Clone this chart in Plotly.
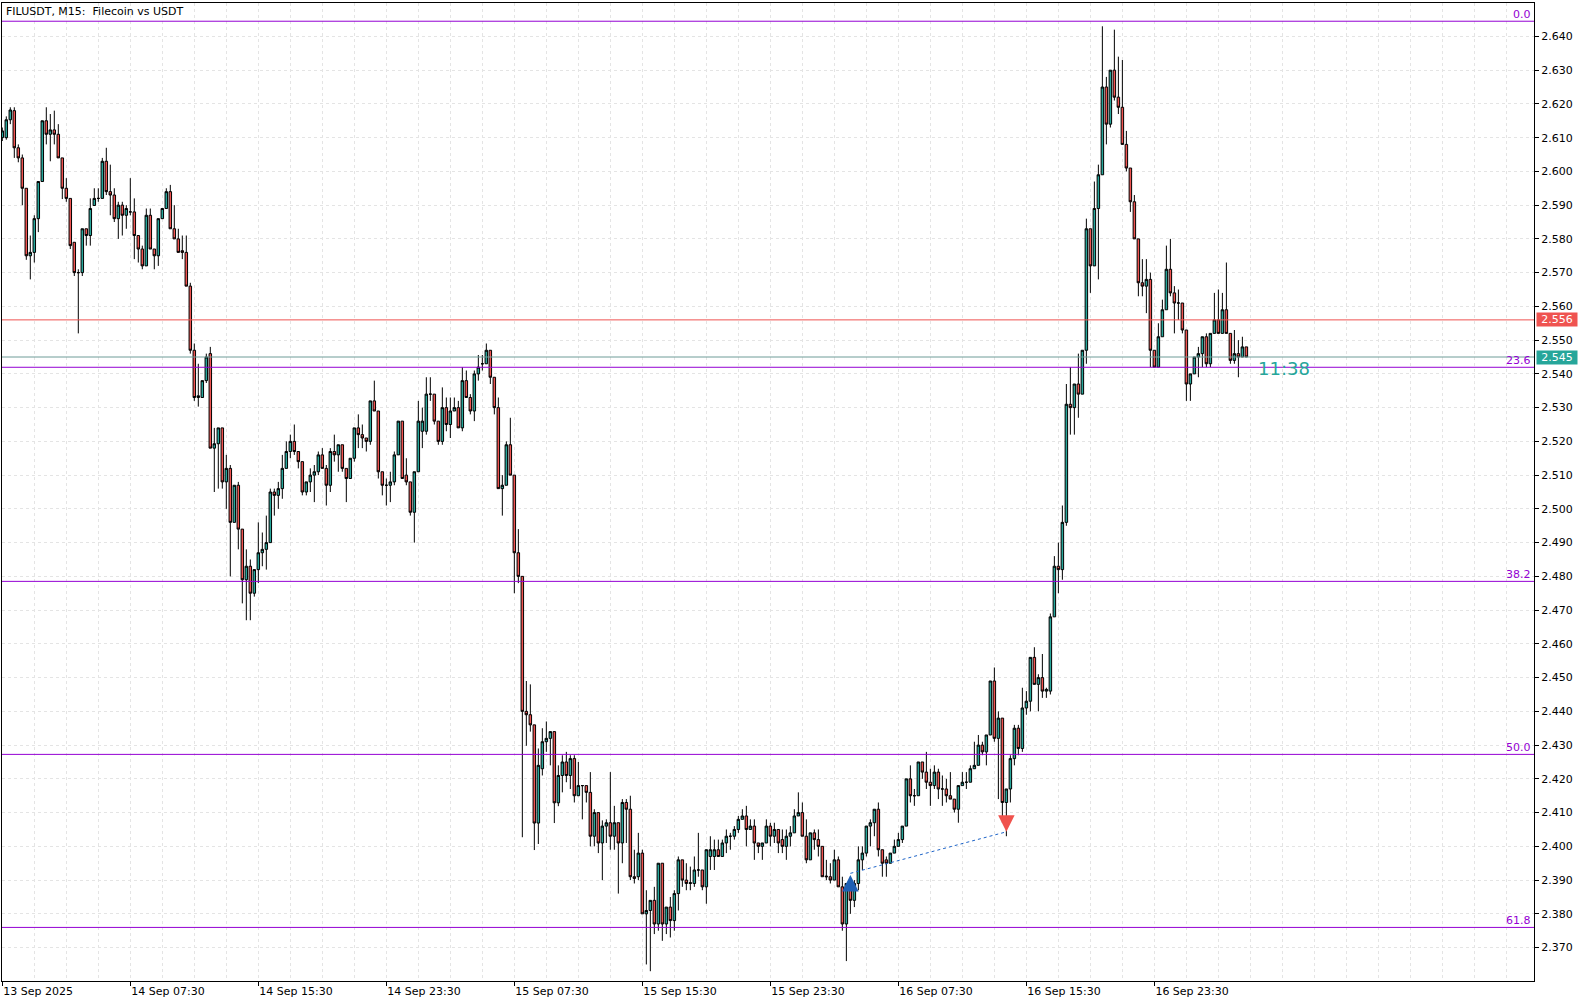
import plotly.graph_objects as go

opens = [
    2.610, 2.610, 2.6153, 2.618, 2.607, 2.604, 2.595, 2.575, 2.576, 2.586,
    2.597, 2.615, 2.611, 2.6123, 2.611, 2.604, 2.595, 2.592, 2.579, 2.570,
    2.570, 2.583, 2.581, 2.5899, 2.592, 2.592, 2.603, 2.594, 2.593, 2.586,
    2.590, 2.587, 2.588, 2.588, 2.581, 2.577, 2.572, 2.587, 2.577, 2.575,
    2.586, 2.589, 2.594, 2.583, 2.580, 2.5765, 2.576, 2.566, 2.547, 2.533,
    2.533, 2.538, 2.546, 2.518, 2.5193, 2.524, 2.508, 2.512, 2.496, 2.507,
    2.494, 2.479, 2.483, 2.475, 2.482, 2.487, 2.488, 2.490, 2.505, 2.504,
    2.506, 2.512, 2.517, 2.520, 2.517, 2.514, 2.505, 2.508, 2.510, 2.511,
    2.516, 2.512, 2.507, 2.517, 2.516, 2.519, 2.512, 2.509, 2.515, 2.524,
    2.522, 2.521, 2.520, 2.532, 2.529, 2.511, 2.507, 2.507, 2.508, 2.516,
    2.526, 2.510, 2.508, 2.499, 2.511, 2.523, 2.523, 2.534, 2.534, 2.526,
    2.520, 2.530, 2.525, 2.529, 2.530, 2.524, 2.538, 2.533, 2.529, 2.540,
    2.543, 2.543, 2.547, 2.539, 2.530, 2.506, 2.507, 2.519, 2.510, 2.487,
    2.480, 2.440, 2.439, 2.436, 2.4069, 2.423, 2.431, 2.432, 2.434, 2.4129,
    2.421, 2.425, 2.421, 2.426, 2.415, 2.418, 2.418, 2.416, 2.403, 2.410,
    2.401, 2.406, 2.407, 2.403, 2.407, 2.401, 2.413, 2.411, 2.391, 2.391,
    2.398, 2.380, 2.381, 2.384, 2.377, 2.395, 2.377, 2.382, 2.378, 2.386,
    2.396, 2.390, 2.389, 2.389, 2.393, 2.393, 2.388, 2.397, 2.397, 2.399,
    2.397, 2.401, 2.403, 2.403, 2.405, 2.408, 2.409, 2.405, 2.406, 2.401,
    2.400, 2.401, 2.406, 2.403, 2.405, 2.402, 2.400, 2.403, 2.404, 2.409,
    2.410, 2.403, 2.396, 2.404, 2.402, 2.400, 2.3912, 2.391, 2.390, 2.396,
    2.388, 2.377, 2.389, 2.384, 2.389, 2.396, 2.398, 2.406, 2.407, 2.411,
    2.399, 2.396, 2.395, 2.398, 2.400, 2.402, 2.406, 2.420, 2.415, 2.415,
    2.425, 2.422, 2.419, 2.418, 2.422, 2.417, 2.417, 2.415, 2.414, 2.411,
    2.418, 2.419, 2.419, 2.423, 2.424, 2.430, 2.428, 2.433, 2.449, 2.432,
    2.438, 2.413, 2.417, 2.426, 2.435, 2.429, 2.441, 2.443, 2.456, 2.448,
    2.450, 2.446, 2.446, 2.468, 2.483, 2.482, 2.496, 2.531, 2.530, 2.537,
    2.534, 2.547, 2.583, 2.572, 2.589, 2.599, 2.625, 2.614, 2.630, 2.622,
    2.619, 2.608, 2.601, 2.591, 2.580, 2.567, 2.566, 2.568, 2.547, 2.542,
    2.551, 2.559, 2.571, 2.564, 2.561, 2.561, 2.553, 2.537, 2.540, 2.545,
    2.546, 2.551, 2.543, 2.552, 2.556, 2.552, 2.559, 2.552, 2.544, 2.546,
    2.545, 2.548,
]

highs = [
    2.613, 2.6163, 2.619, 2.619, 2.608, 2.605, 2.595, 2.581, 2.587, 2.597,
    2.615, 2.619, 2.617, 2.618, 2.614, 2.604, 2.598, 2.592, 2.579, 2.571,
    2.583, 2.583, 2.592, 2.595, 2.595, 2.604, 2.607, 2.602, 2.595, 2.591,
    2.591, 2.590, 2.598, 2.592, 2.581, 2.578, 2.589, 2.589, 2.577, 2.586,
    2.589, 2.595, 2.596, 2.590, 2.583, 2.581, 2.581, 2.567, 2.549, 2.543,
    2.538, 2.546, 2.548, 2.524, 2.524, 2.524, 2.516, 2.513, 2.507, 2.508,
    2.494, 2.488, 2.485, 2.482, 2.496, 2.493, 2.498, 2.506, 2.506, 2.508,
    2.516, 2.520, 2.522, 2.525, 2.517, 2.514, 2.508, 2.512, 2.513, 2.517,
    2.518, 2.513, 2.518, 2.522, 2.519, 2.519, 2.512, 2.515, 2.524, 2.528,
    2.525, 2.521, 2.532, 2.538, 2.529, 2.511, 2.509, 2.511, 2.517, 2.526,
    2.526, 2.515, 2.508, 2.511, 2.532, 2.530, 2.539, 2.539, 2.534, 2.526,
    2.536, 2.533, 2.533, 2.533, 2.532, 2.542, 2.541, 2.534, 2.541, 2.5456,
    2.5456, 2.549, 2.547, 2.539, 2.533, 2.510, 2.520, 2.527, 2.510, 2.494,
    2.480, 2.449, 2.448, 2.436, 2.429, 2.435, 2.437, 2.434, 2.434, 2.424,
    2.427, 2.428, 2.427, 2.427, 2.425, 2.418, 2.418, 2.422, 2.411, 2.410,
    2.4077, 2.408, 2.422, 2.412, 2.407, 2.414, 2.414, 2.415, 2.399, 2.404,
    2.399, 2.387, 2.384, 2.388, 2.395, 2.395, 2.382, 2.385, 2.387, 2.397,
    2.396, 2.395, 2.394, 2.397, 2.404, 2.393, 2.399, 2.403, 2.402, 2.402,
    2.402, 2.405, 2.404, 2.406, 2.409, 2.411, 2.412, 2.408, 2.408, 2.401,
    2.401, 2.408, 2.407, 2.407, 2.405, 2.405, 2.405, 2.406, 2.411, 2.416,
    2.413, 2.408, 2.404, 2.405, 2.405, 2.400, 2.396, 2.395, 2.399, 2.397,
    2.391, 2.389, 2.391, 2.390, 2.400, 2.400, 2.406, 2.408, 2.411, 2.413,
    2.399, 2.397, 2.398, 2.402, 2.404, 2.406, 2.420, 2.424, 2.417, 2.425,
    2.425, 2.428, 2.423, 2.424, 2.423, 2.421, 2.420, 2.422, 2.414, 2.418,
    2.422, 2.422, 2.424, 2.431, 2.433, 2.431, 2.433, 2.449, 2.453, 2.440,
    2.438, 2.417, 2.427, 2.436, 2.436, 2.447, 2.446, 2.456, 2.459, 2.451,
    2.457, 2.447, 2.469, 2.486, 2.490, 2.501, 2.537, 2.542, 2.537, 2.546,
    2.547, 2.586, 2.583, 2.597, 2.602, 2.643, 2.628, 2.630, 2.642, 2.634,
    2.633, 2.612, 2.601, 2.593, 2.580, 2.574, 2.574, 2.570, 2.547, 2.555,
    2.562, 2.578, 2.580, 2.566, 2.565, 2.561, 2.553, 2.540, 2.545, 2.548,
    2.551, 2.552, 2.552, 2.564, 2.565, 2.564, 2.573, 2.552, 2.553, 2.550,
    2.551, 2.548,
]

lows = [
    2.609, 2.6094, 2.614, 2.604, 2.6027, 2.590, 2.5738, 2.568, 2.573, 2.582,
    2.597, 2.608, 2.603, 2.608, 2.604, 2.5918, 2.591, 2.577, 2.569, 2.552,
    2.569, 2.578, 2.578, 2.5899, 2.591, 2.592, 2.593, 2.587, 2.585, 2.580,
    2.581, 2.583, 2.587, 2.574, 2.573, 2.571, 2.572, 2.577, 2.571, 2.572,
    2.586, 2.589, 2.583, 2.580, 2.576, 2.574, 2.566, 2.546, 2.532, 2.5303,
    2.533, 2.5373, 2.518, 2.505, 2.506, 2.506, 2.500, 2.480, 2.496, 2.488,
    2.472, 2.467, 2.467, 2.474, 2.478, 2.483, 2.482, 2.490, 2.498, 2.500,
    2.503, 2.512, 2.515, 2.516, 2.512, 2.504, 2.504, 2.505, 2.502, 2.510,
    2.512, 2.501, 2.505, 2.514, 2.511, 2.511, 2.502, 2.509, 2.514, 2.518,
    2.518, 2.517, 2.519, 2.529, 2.509, 2.504, 2.501, 2.502, 2.507, 2.516,
    2.509, 2.507, 2.498, 2.490, 2.511, 2.518, 2.522, 2.532, 2.525, 2.519,
    2.519, 2.523, 2.521, 2.529, 2.524, 2.523, 2.533, 2.528, 2.526, 2.538,
    2.541, 2.543, 2.537, 2.528, 2.506, 2.498, 2.507, 2.510, 2.475, 2.478,
    2.4027, 2.4298, 2.434, 2.3989, 2.4007, 2.421, 2.428, 2.424, 2.4069, 2.4119,
    2.416, 2.419, 2.417, 2.413, 2.415, 2.408, 2.413, 2.400, 2.400, 2.398,
    2.390, 2.401, 2.399, 2.399, 2.386, 2.395, 2.401, 2.390, 2.389, 2.390,
    2.380, 2.365, 2.363, 2.374, 2.375, 2.372, 2.374, 2.373, 2.375, 2.381,
    2.388, 2.387, 2.387, 2.388, 2.391, 2.387, 2.383, 2.393, 2.393, 2.397,
    2.397, 2.398, 2.399, 2.402, 2.404, 2.408, 2.400, 2.405, 2.396, 2.398,
    2.396, 2.401, 2.400, 2.401, 2.398, 2.398, 2.396, 2.400, 2.404, 2.409,
    2.403, 2.395, 2.396, 2.399, 2.397, 2.391, 2.390, 2.389, 2.390, 2.388,
    2.375, 2.366, 2.380, 2.382, 2.387, 2.393, 2.397, 2.400, 2.403, 2.397,
    2.391, 2.391, 2.395, 2.398, 2.400, 2.401, 2.406, 2.413, 2.412, 2.415,
    2.420, 2.417, 2.412, 2.417, 2.414, 2.412, 2.413, 2.414, 2.410, 2.407,
    2.418, 2.417, 2.419, 2.423, 2.424, 2.427, 2.424, 2.433, 2.431, 2.414,
    2.407, 2.403, 2.413, 2.424, 2.427, 2.428, 2.439, 2.440, 2.448, 2.440,
    2.444, 2.444, 2.445, 2.468, 2.475, 2.479, 2.495, 2.522, 2.522, 2.527,
    2.534, 2.543, 2.564, 2.572, 2.568, 2.599, 2.608, 2.613, 2.621, 2.617,
    2.608, 2.600, 2.588, 2.580, 2.563, 2.563, 2.558, 2.542, 2.542, 2.542,
    2.551, 2.559, 2.563, 2.552, 2.556, 2.552, 2.532, 2.532, 2.540, 2.539,
    2.542, 2.542, 2.542, 2.552, 2.552, 2.552, 2.552, 2.543, 2.543, 2.539,
    2.545, 2.545,
]

closes = [
    2.612, 2.6153, 2.6182, 2.607, 2.604, 2.595, 2.575, 2.576, 2.586, 2.597,
    2.615, 2.611, 2.6123, 2.611, 2.604, 2.595, 2.592, 2.578, 2.570, 2.570,
    2.583, 2.581, 2.589, 2.592, 2.592, 2.603, 2.594, 2.593, 2.586, 2.590,
    2.587, 2.589, 2.588, 2.581, 2.577, 2.572, 2.587, 2.577, 2.575, 2.586,
    2.589, 2.594, 2.583, 2.580, 2.576, 2.576, 2.566, 2.547, 2.533, 2.5335,
    2.538, 2.545, 2.518, 2.5193, 2.524, 2.508, 2.512, 2.496, 2.507, 2.494,
    2.479, 2.483, 2.475, 2.482, 2.487, 2.488, 2.490, 2.505, 2.504, 2.506,
    2.512, 2.517, 2.520, 2.517, 2.514, 2.505, 2.508, 2.510, 2.511, 2.516,
    2.512, 2.507, 2.517, 2.516, 2.519, 2.512, 2.509, 2.515, 2.524, 2.522,
    2.521, 2.520, 2.532, 2.529, 2.511, 2.507, 2.507, 2.508, 2.516, 2.526,
    2.509, 2.508, 2.499, 2.511, 2.526, 2.526, 2.534, 2.534, 2.526, 2.520,
    2.530, 2.525, 2.529, 2.530, 2.524, 2.538, 2.533, 2.529, 2.540, 2.542,
    2.543, 2.547, 2.539, 2.530, 2.506, 2.507, 2.519, 2.510, 2.487, 2.480,
    2.440, 2.439, 2.436, 2.4069, 2.424, 2.431, 2.432, 2.434, 2.4129, 2.421,
    2.425, 2.421, 2.426, 2.415, 2.418, 2.418, 2.416, 2.403, 2.410, 2.401,
    2.406, 2.407, 2.403, 2.407, 2.401, 2.413, 2.411, 2.391, 2.3905, 2.398,
    2.380, 2.381, 2.384, 2.377, 2.395, 2.377, 2.382, 2.378, 2.386, 2.396,
    2.390, 2.389, 2.3892, 2.393, 2.393, 2.388, 2.399, 2.399, 2.399, 2.397,
    2.401, 2.403, 2.403, 2.405, 2.408, 2.409, 2.405, 2.406, 2.401, 2.400,
    2.401, 2.406, 2.403, 2.405, 2.401, 2.400, 2.403, 2.404, 2.409, 2.410,
    2.403, 2.396, 2.404, 2.402, 2.400, 2.391, 2.391, 2.390, 2.396, 2.388,
    2.377, 2.389, 2.384, 2.389, 2.396, 2.398, 2.406, 2.407, 2.411, 2.399,
    2.395, 2.395, 2.398, 2.400, 2.402, 2.406, 2.420, 2.415, 2.415, 2.425,
    2.422, 2.419, 2.418, 2.422, 2.417, 2.417, 2.415, 2.414, 2.411, 2.418,
    2.419, 2.419, 2.423, 2.424, 2.430, 2.428, 2.433, 2.449, 2.432, 2.438,
    2.413, 2.417, 2.426, 2.435, 2.429, 2.441, 2.443, 2.456, 2.448, 2.450,
    2.446, 2.4465, 2.468, 2.483, 2.482, 2.496, 2.531, 2.530, 2.537, 2.534,
    2.547, 2.583, 2.572, 2.589, 2.599, 2.625, 2.614, 2.630, 2.622, 2.619,
    2.608, 2.601, 2.591, 2.580, 2.567, 2.566, 2.568, 2.547, 2.542, 2.551,
    2.559, 2.571, 2.564, 2.561, 2.561, 2.553, 2.537, 2.540, 2.545, 2.546,
    2.551, 2.543, 2.552, 2.556, 2.552, 2.559, 2.552, 2.544, 2.546, 2.545,
    2.548, 2.545,
]

tick_bars = [0, 32, 64, 96, 128, 160, 192, 224, 256, 288]
tick_labels = ["13 Sep 2025", "14 Sep 07:30", "14 Sep 15:30", "14 Sep 23:30",
               "15 Sep 07:30", "15 Sep 15:30", "15 Sep 23:30", "16 Sep 07:30",
               "16 Sep 15:30", "16 Sep 23:30"]

fib_high = 2.6445
fib_low = 2.2100
fib_ratios = [0.0, 23.6, 38.2, 50.0, 61.8]
fib_labels = ["0.0", "23.6", "38.2", "50.0", "61.8"]

ask_price = 2.556
bid_price = 2.545
timer_text = "11:38"

entry_bar, entry_price = 212, 2.3915
exit_bar, exit_price = 251, 2.4043

n = len(opens)
assert len(highs) == n and len(lows) == n and len(closes) == n, (len(opens), len(highs), len(lows), len(closes))
bars = list(range(n))

BULL = "#26A69A"
BEAR = "#EF5350"
FIB = "#9400D3"
GRID = "#E4E4E4"
FONT = "DejaVu Sans"

fig = go.Figure()
fig.add_trace(go.Candlestick(
    x=bars, open=opens, high=highs, low=lows, close=closes,
    increasing=dict(fillcolor=BULL, line=dict(color="black", width=1)),
    decreasing=dict(fillcolor=BEAR, line=dict(color="black", width=1)),
    whiskerwidth=0, hoverinfo="skip", showlegend=False,
))

fig.add_trace(go.Scatter(
    x=[entry_bar, exit_bar], y=[entry_price + 0.0005, exit_price],
    mode="lines", line=dict(color="#1E64C8", width=1, dash="3px,3px"),
    hoverinfo="skip", showlegend=False,
))

fib_range = fib_high - fib_low
for r, lab in zip(fib_ratios, fib_labels):
    lvl = fib_high - r / 100.0 * fib_range
    fig.add_shape(type="line", xref="paper", x0=0, x1=1, yref="y", y0=lvl, y1=lvl,
                  line=dict(color=FIB, width=1))
    fig.add_annotation(xref="paper", x=1, xanchor="right", xshift=-1,
                       yref="y", y=lvl, yanchor="bottom", yshift=-2,
                       text=lab, showarrow=False,
                       font=dict(family=FONT, size=11, color=FIB))

fig.add_shape(type="line", xref="paper", x0=0, x1=1, yref="y", y0=ask_price, y1=ask_price,
              line=dict(color=BEAR, width=1))
fig.add_shape(type="line", xref="paper", x0=0, x1=1, yref="y", y0=bid_price, y1=bid_price,
              line=dict(color="#6E9C98", width=1))

for price, col in [(ask_price, BEAR), (bid_price, BULL)]:
    fig.add_annotation(xref="paper", x=1, xanchor="left", xshift=2,
                       yref="y", y=price, yanchor="middle",
                       text=f"{price:.3f}", showarrow=False, bgcolor=col,
                       width=40, height=13, borderpad=0,
                       font=dict(family=FONT, size=11, color="white"))

# trade arrows
fig.add_annotation(x=entry_bar, y=entry_price, xref="x", yref="y", ax=0, ay=10,
                   showarrow=True, arrowhead=2, arrowsize=1.1, arrowwidth=3,
                   arrowcolor="#1E5FB4", text="")
fig.add_annotation(x=exit_bar, y=exit_price, xref="x", yref="y", ax=0, ay=-10,
                   showarrow=True, arrowhead=2, arrowsize=1.1, arrowwidth=3,
                   arrowcolor="#F0524D", text="")

fig.add_annotation(xref="x", x=n + 1.5, xanchor="left", yref="y", y=2.5417,
                   yanchor="middle", text=timer_text, showarrow=False,
                   font=dict(family=FONT, size=18, color=BULL))

fig.add_annotation(xref="paper", yref="paper", x=0, y=1, xanchor="left", yanchor="top",
                   xshift=2, yshift=0, text="FILUSDT, M15:\u00a0 Filecoin vs USDT",
                   showarrow=False, font=dict(family=FONT, size=11, color="black"))

fig.update_layout(
    width=1590, height=1005,
    margin=dict(l=2, r=56, t=3, b=24),
    paper_bgcolor="white", plot_bgcolor="white",
    font=dict(family=FONT, size=11, color="black"),
    showlegend=False,
    boxgap=0.38, boxgroupgap=0,
    xaxis=dict(
        range=[-0.075, 382.9], rangeslider=dict(visible=False),
        tickmode="array", tickvals=tick_bars, ticktext=tick_labels,
        ticks="outside", ticklen=4, tickcolor="black",
        ticklabelposition="outside right",
        showline=True, linecolor="black", linewidth=1, mirror=True,
        showgrid=True, gridcolor=GRID, griddash="3px,3px", gridwidth=1,
        minor=dict(tickmode="linear", tick0=0, dtick=8, showgrid=True,
                   gridcolor=GRID, griddash="3px,3px", ticks=""),
        zeroline=False, fixedrange=True,
    ),
    yaxis=dict(
        side="right", range=[2.3601, 2.6499],
        tickmode="linear", tick0=2.37, dtick=0.01, tickformat=".3f",
        ticks="outside", ticklen=4, tickcolor="black",
        showline=True, linecolor="black", linewidth=1, mirror=True,
        showgrid=True, gridcolor=GRID, griddash="3px,3px", gridwidth=1,
        zeroline=False, fixedrange=True,
    ),
)

fig.write_html(
    "out.html",
    config={"displayModeBar": False, "staticPlot": True},
    post_script="document.body.style.margin='0';document.body.style.padding='0';document.body.style.overflow='hidden';",
)
